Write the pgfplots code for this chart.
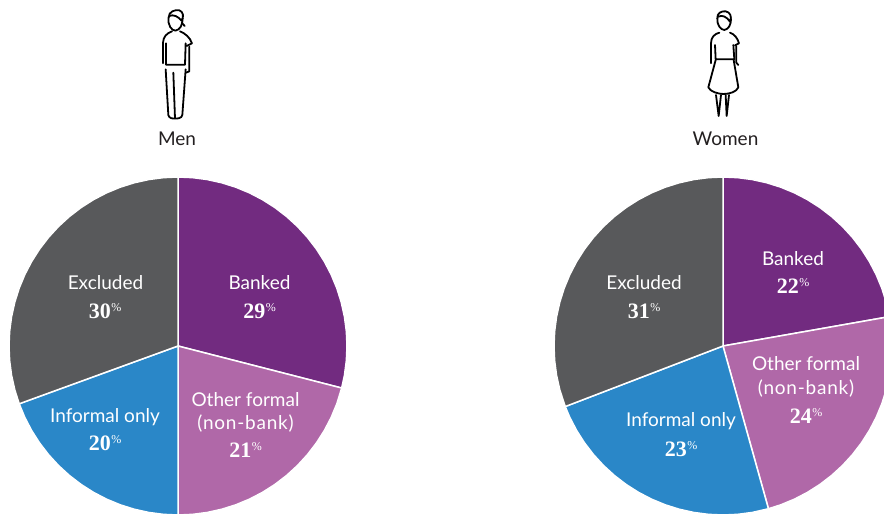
\documentclass[border=0pt]{standalone}
\usepackage{fontspec}
\usepackage{pgfplots}
\usepgfplotslibrary{polar}
\pgfplotsset{compat=1.18}
\setmainfont{Lato}
\newfontfamily\numfont{Liberation Serif}
\definecolor{cPurple}{HTML}{722B80}
\definecolor{cLight}{HTML}{B068A8}
\definecolor{cBlue}{HTML}{2A87C8}
\definecolor{cGray}{HTML}{58595B}
\definecolor{cText}{HTML}{231F20}
\newcommand{\lab}[1]{\fontsize{19}{23}\selectfont #1}
\newcommand{\val}[1]{\fontsize{22}{22}\selectfont\numfont\bfseries #1\kern0.5pt\raisebox{6.5pt}{\fontsize{12}{12}\selectfont\mdseries\%}}
\pgfplotsset{pie/.style={hide axis, scale only axis, width=338pt, height=338pt, anchor=center, clip=false,
  ymin=0, ymax=100, xmin=0, xmax=360},
  wedge/.style={fill=#1, draw=white, line width=1.5pt, line join=round}}
\begin{document}
\begin{tikzpicture}[x=1pt,y=1pt]
\path[use as bounding box] (0,0) rectangle (884,514);
\clip (0,0) rectangle (884,514);
\begin{polaraxis}[pie, at={(178pt,168pt)}]
% Banked 29%
\addplot[wedge=cPurple] coordinates {(0,0) (90,100) (85,100) (80,100) (75,100) (70,100) (65,100) (60,100) (55,100) (50,100) (45,100) (40,100) (35,100) (30,100) (25,100) (20,100) (15,100) (10,100) (5,100) (0,100) (-5,100) (-10,100) (-14.4,100)} -- cycle;
% Other formal 21%
\addplot[wedge=cLight] coordinates {(0,0) (-14.4,100) (-20,100) (-25,100) (-30,100) (-35,100) (-40,100) (-45,100) (-50,100) (-55,100) (-60,100) (-65,100) (-70,100) (-75,100) (-80,100) (-85,100) (-90,100)} -- cycle;
% Informal only 20%
\addplot[wedge=cBlue] coordinates {(0,0) (-90,100) (-95,100) (-100,100) (-105,100) (-110,100) (-115,100) (-120,100) (-125,100) (-130,100) (-135,100) (-140,100) (-145,100) (-150,100) (-155,100) (-160,100)} -- cycle;
% Excluded 30%
\addplot[wedge=cGray] coordinates {(0,0) (-160,100) (-165,100) (-170,100) (-175,100) (-180,100) (-185,100) (-190,100) (-195,100) (-200,100) (-205,100) (-210,100) (-215,100) (-220,100) (-225,100) (-230,100) (-235,100) (-240,100) (-245,100) (-250,100) (-255,100) (-260,100) (-265,100) (-270,100)} -- cycle;
\end{polaraxis}
\begin{polaraxis}[pie, at={(723pt,168pt)}]
% Banked 22%
\addplot[wedge=cPurple] coordinates {(0,0) (90,100) (85,100) (80,100) (75,100) (70,100) (65,100) (60,100) (55,100) (50,100) (45,100) (40,100) (35,100) (30,100) (25,100) (20,100) (15,100) (10,100)} -- cycle;
% Other formal 24%
\addplot[wedge=cLight] coordinates {(0,0) (10,100) (5,100) (0,100) (-5,100) (-10,100) (-15,100) (-20,100) (-25,100) (-30,100) (-35,100) (-40,100) (-45,100) (-50,100) (-55,100) (-60,100) (-65,100) (-70,100) (-74.4,100)} -- cycle;
% Informal only 23%
\addplot[wedge=cBlue] coordinates {(0,0) (-74.4,100) (-80,100) (-85,100) (-90,100) (-95,100) (-100,100) (-105,100) (-110,100) (-115,100) (-120,100) (-125,100) (-130,100) (-135,100) (-140,100) (-145,100) (-150,100) (-155,100) (-159,100)} -- cycle;
% Excluded 31%
\addplot[wedge=cGray] coordinates {(0,0) (-159,100) (-165,100) (-170,100) (-175,100) (-180,100) (-185,100) (-190,100) (-195,100) (-200,100) (-205,100) (-210,100) (-215,100) (-220,100) (-225,100) (-230,100) (-235,100) (-240,100) (-245,100) (-250,100) (-255,100) (-260,100) (-265,100) (-270,100)} -- cycle;
\end{polaraxis}
% text
\newcommand{\T}[3]{\node[text=#3,align=center,inner sep=0pt] at (#1) {#2};}
\T{177,375}{\lab{Men}}{cText}
\T{725.5,375}{\lab{Women}}{cText}
\T{105.5,231.5}{\lab{Excluded}}{white}
\T{105,203}{\val{30}}{white}
\T{259.5,231.5}{\lab{Banked}}{white}
\T{259.5,203}{\val{29}}{white}
\T{245.5,114.5}{\lab{Other formal}}{white}
\T{245.5,90}{\lab{\addfontfeature{LetterSpace=4}(non-bank)}}{white}
\T{245.5,64}{\val{21}}{white}
\T{105,97}{\lab{Informal only}}{white}
\T{105,71}{\val{20}}{white}
\T{644,231.5}{\lab{Excluded}}{white}
\T{644,203}{\val{31}}{white}
\T{793,255}{\lab{Banked}}{white}
\T{793,228}{\val{22}}{white}
\T{806,150}{\lab{Other formal}}{white}
\T{806,125}{\lab{\addfontfeature{LetterSpace=4}(non-bank)}}{white}
\T{806,98}{\val{24}}{white}
\T{681,92.5}{\lab{Informal only}}{white}
\T{681,65}{\val{23}}{white}
% man icon
\begin{scope}[shift={(130,514)},x=0.3333pt,y=-0.3333pt,line width=1.8pt,draw=black,line cap=round,line join=round]
\draw (116,52) .. controls (112,75) and (125,92) .. (136,92) .. controls (150,90) and (158,75) .. (158,55);
\draw (116,52) .. controls (116,35) and (135,28) .. (148,31) .. controls (160,35) and (162,50) .. (155,62) .. controls (145,50) and (130,42) .. (118,48);
\draw (155,68) -- (164,78);
\draw (126,94) .. controls (110,100) and (100,110) .. (99,128) -- (99,190);
\draw (108,130) -- (108,194) -- (165,194) -- (167,130);
\draw (150,94) .. controls (165,100) and (180,112) .. (186,130) -- (170,138);
\draw (178,140) -- (178,214) -- (168,218);
\draw (107,208) -- (115,345) .. controls (116,355) and (130,357) .. (135,355) -- (130,218);
\draw (167,208) -- (157,345) .. controls (156,355) and (140,357) .. (135,355);
\end{scope}
% woman icon
\begin{scope}[shift={(675,514)},x=0.3333pt,y=-0.3333pt,line width=1.8pt,draw=black,line cap=round,line join=round]
\draw (127,55) .. controls (125,75) and (138,90) .. (148,90) .. controls (160,88) and (168,75) .. (168,58);
\draw (127,55) .. controls (125,40) and (140,32) .. (152,34) .. controls (165,36) and (172,50) .. (165,65) .. controls (155,50) and (142,44) .. (130,50);
\draw (133,98) .. controls (118,102) and (108,112) .. (108,130) -- (108,190);
\draw (165,98) .. controls (178,102) and (188,115) .. (192,130) -- (180,136);
\draw (120,135) -- (122,178) -- (178,178) -- (175,135);
\draw (184,138) -- (184,188) -- (190,195);
\draw (122,180) -- (100,262) .. controls (105,275) and (130,282) .. (145,282) .. controls (165,282) and (185,275) .. (190,262) -- (176,180);
\draw (123,285) -- (131,348) -- (138,285);
\draw (162,285) -- (155,348) -- (152,285);
\end{scope}
\end{tikzpicture}
\end{document}
